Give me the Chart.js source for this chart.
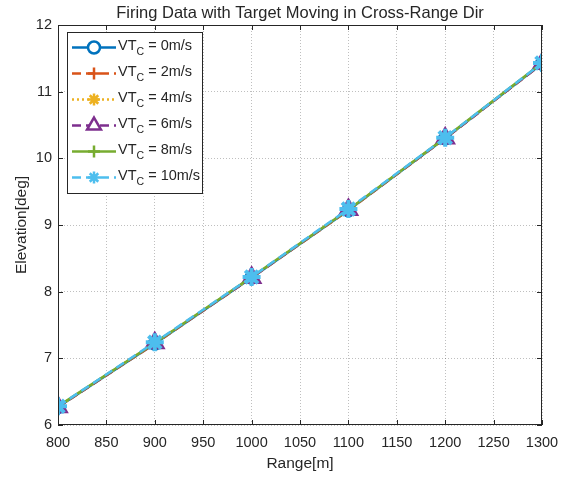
<!DOCTYPE html>
<html>
<head>
<meta charset="utf-8">
<script src="https://cdn.jsdelivr.net/npm/chart.js@4.4.1/dist/chart.umd.min.js"></script>
<style>
  html, body { margin: 0; padding: 0; background: #fff; }
  #wrap { width: 568px; height: 479px; }
</style>
</head>
<body>
<div id="wrap"><canvas id="canFiring"></canvas></div>
<script>
// range [m]
const ranges = [800, 900, 1000, 1100, 1200, 1300]
// elevation [deg] per target cross-range speed
const vt0 = [6.27, 7.22, 8.21, 9.22, 10.30, 11.42]
const vt2 = [6.27, 7.22, 8.21, 9.22, 10.30, 11.42]
const vt4 = [6.27, 7.23, 8.21, 9.23, 10.30, 11.42]
const vt6 = [6.27, 7.23, 8.21, 9.23, 10.30, 11.42]
const vt8 = [6.28, 7.23, 8.22, 9.23, 10.31, 11.43]
const vt10 = [6.28, 7.24, 8.22, 9.24, 10.31, 11.43]
const speeds = ['0', '2', '4', '6', '8', '10']
const xTicks = [800, 850, 900, 950, 1000, 1050, 1100, 1150, 1200, 1250, 1300]
const yTicks = [6, 7, 8, 9, 10, 11, 12]

const FONT = '"Liberation Sans", Arial, sans-serif'
const TXT = '#262626'

const styles = [
  { color: '#0072BD', dash: [], point: 'circle', fill: 'rgba(0,0,0,0)', r: 6 },
  { color: '#D95319', dash: [9, 5], point: 'cross', fill: '#D95319', r: 7 },
  { color: '#EDB120', dash: [2, 3], point: 'star', fill: '#EDB120', r: 7 },
  { color: '#7E2F8E', dash: [9, 5], point: 'triangle', fill: '#7E2F8E', r: 10 },
  { color: '#77AC30', dash: [], point: 'cross', fill: '#77AC30', r: 7 },
  { color: '#4DBEEE', dash: [9, 5], point: 'star', fill: '#4DBEEE', r: 9 }
]
const series = [vt0, vt2, vt4, vt6, vt8, vt10]

const datasets = series.map((vals, i) => ({
  label: 'VTC = ' + speeds[i] + 'm/s',
  data: ranges.map((x, j) => ({ x: x, y: vals[j] })),
  borderColor: styles[i].color,
  backgroundColor: styles[i].fill,
  borderWidth: 2.5,
  borderDash: styles[i].dash,
  pointStyle: styles[i].point,
  pointRadius: styles[i].r,
  pointBorderWidth: i === 5 ? 4 : 2.5,
  pointBorderColor: styles[i].color,
  pointBackgroundColor: styles[i].fill,
  order: series.length - i
}))

function drawMarker (ctx, st, x, y) {
  ctx.save()
  ctx.setLineDash([])
  Chart.helpers.drawPoint(ctx, {
    pointStyle: st.point,
    radius: st.point === 'triangle' ? 8 : 6,
    borderWidth: 2.5,
    rotation: 0
  }, x, y)
  ctx.restore()
}

const frame = {
  id: 'frame',
  beforeDraw (chart) {
    const { ctx } = chart
    ctx.save()
    ctx.fillStyle = '#fff'
    ctx.fillRect(0, 0, chart.width, chart.height)
    ctx.restore()
  },
  afterDatasetsDraw (chart) {
    const { ctx, chartArea: a, scales } = chart
    ctx.save()
    // box + inward ticks
    ctx.strokeStyle = TXT
    ctx.lineWidth = 1
    ctx.setLineDash([])
    ctx.strokeRect(a.left + 0.5, a.top + 0.5, a.right - a.left - 1, a.bottom - a.top - 1)
    ctx.beginPath()
    xTicks.forEach(v => {
      const px = Math.round(scales.x.getPixelForValue(v)) + 0.5
      ctx.moveTo(px, a.bottom); ctx.lineTo(px, a.bottom - 5)
      ctx.moveTo(px, a.top); ctx.lineTo(px, a.top + 5)
    })
    yTicks.forEach(v => {
      const py = Math.round(scales.y.getPixelForValue(v)) + 0.5
      ctx.moveTo(a.left, py); ctx.lineTo(a.left + 5, py)
      ctx.moveTo(a.right, py); ctx.lineTo(a.right - 5, py)
    })
    ctx.stroke()

    // titles
    ctx.fillStyle = TXT
    ctx.textAlign = 'center'
    ctx.textBaseline = 'middle'
    ctx.font = '16.5px ' + FONT
    ctx.fillText('Firing Data with Target Moving in Cross-Range Dir', (a.left + a.right) / 2, 13)
    ctx.font = '15.5px ' + FONT
    ctx.fillText('Range[m]', (a.left + a.right) / 2, 464)
    ctx.save()
    ctx.translate(22, (a.top + a.bottom) / 2)
    ctx.rotate(-Math.PI / 2)
    ctx.fillText('Elevation[deg]', 0, 0)
    ctx.restore()

    // legend
    const lx = 67.5, ly = 32.5, lw = 135, lh = 161
    ctx.fillStyle = '#fff'
    ctx.fillRect(lx, ly, lw, lh)
    ctx.strokeStyle = TXT
    ctx.strokeRect(lx, ly, lw, lh)
    styles.forEach((st, i) => {
      const y = 47.5 + i * 26
      ctx.strokeStyle = st.color
      ctx.lineWidth = 2.5
      ctx.setLineDash(st.dash)
      ctx.beginPath()
      ctx.moveTo(72, y); ctx.lineTo(116, y)
      ctx.stroke()
      ctx.fillStyle = (st.point === 'circle' || st.point === 'triangle') ? '#fff' : st.color
      drawMarker(ctx, st, 94, y)
      ctx.fillStyle = TXT
      ctx.textAlign = 'left'
      ctx.textBaseline = 'middle'
      ctx.font = '14.5px ' + FONT
      ctx.fillText('VT', 118, y - 2)
      const w = ctx.measureText('VT').width
      ctx.font = '10.5px ' + FONT
      ctx.fillText('C', 118 + w, y + 5)
      const w2 = ctx.measureText('C').width
      ctx.font = '14.5px ' + FONT
      ctx.fillText(' = ' + speeds[i] + 'm/s', 118 + w + w2, y - 2)
    })
    ctx.restore()
  }
}

const cFiring = document.getElementById('canFiring')
new Chart(cFiring, {
  type: 'line',
  data: { datasets: datasets },
  options: {
    responsive: true,
    maintainAspectRatio: false,
    animation: false,
    layout: { padding: { top: 25, right: 26, left: 0, bottom: 0 } },
    plugins: {
      legend: { display: false },
      tooltip: { enabled: false },
      title: { display: false }
    },
    scales: {
      x: {
        type: 'linear',
        min: 800,
        max: 1300,
        afterFit: s => { s.height = 54 },
        afterBuildTicks: s => { s.ticks = xTicks.map(v => ({ value: v })) },
        ticks: {
          color: TXT,
          font: { family: FONT, size: 14.5 },
          padding: 9,
          maxRotation: 0,
          callback: v => String(v)
        },
        grid: { color: 'rgba(0,0,0,0.25)', drawTicks: false },
        border: { display: false, dash: [1, 2] }
      },
      y: {
        min: 6,
        max: 12,
        afterFit: s => { s.width = 58 },
        afterBuildTicks: s => { s.ticks = yTicks.map(v => ({ value: v })) },
        ticks: {
          color: TXT,
          font: { family: FONT, size: 14.5 },
          padding: 6,
          callback: v => String(v)
        },
        grid: { color: 'rgba(0,0,0,0.25)', drawTicks: false },
        border: { display: false, dash: [1, 2] }
      }
    }
  },
  plugins: [frame]
})
</script>
</body>
</html>
